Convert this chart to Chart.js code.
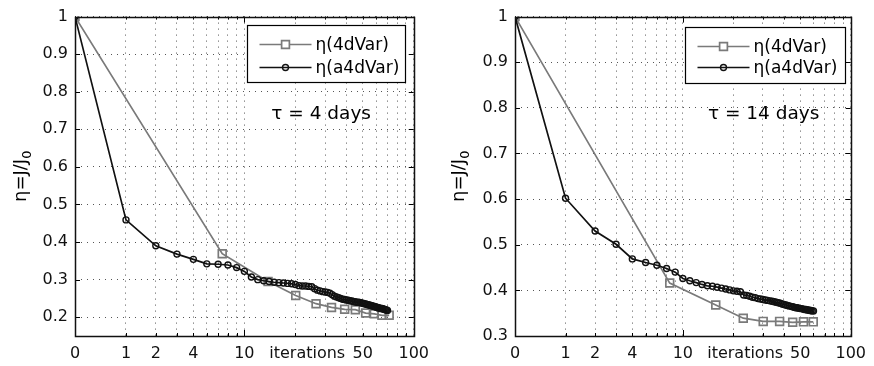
<!DOCTYPE html>
<html>
<head>
<meta charset="utf-8">
<script src="https://cdn.jsdelivr.net/npm/chart.js@4.4.1/dist/chart.umd.min.js"></script>
<style>
  html, body { margin: 0; padding: 0; background: #fff; }
  #wrap { position: relative; width: 874px; height: 366px; }
  .panel { position: absolute; top: 0; width: 437px; height: 366px; }
</style>
</head>
<body>
<div id="wrap">
  <div class="panel" style="left:0"><canvas id="left"></canvas></div>
  <div class="panel" style="left:437px"><canvas id="right"></canvas></div>
</div>
<script>
// x axis is log(iteration + 1): the value 1 is labelled "0", 2 is "1" ...
const xTickValues = [1, 2, 3, 5, 10, 23.5, 50, 100];
const xTickLabels = ['0', '1', '2', '4', '10', 'iterations', '50', '100'];
const xGridValues = [1, 2, 3, 4, 5, 6, 7, 8, 9, 10, 20, 30, 40, 50, 60, 70, 80, 90, 100];

const leftYTicks = [0.2, 0.3, 0.4, 0.5, 0.6, 0.7, 0.8, 0.9, 1];
const rightYTicks = [0.3, 0.4, 0.5, 0.6, 0.7, 0.8, 0.9, 1];

const seriesNames = ['\u03b7(4dVar)', '\u03b7(a4dVar)'];

// tau = 4 days
const left4dX = [1, 7.4, 13.8, 20.1, 26.5, 32.7, 39.1, 45.2, 52, 58.5, 64.9, 71.6];
const left4dY = [1, 0.369, 0.295, 0.258, 0.236, 0.226, 0.221, 0.220, 0.211, 0.209, 0.205, 0.205];
const leftA4dX = [1, 2, 3, 4, 5, 6, 7, 8, 9, 10, 11, 12, 13, 14, 15, 16, 17, 18, 19, 20,
  21, 22, 23, 24, 25, 26, 27, 28, 29, 30, 31, 32, 33, 34, 35, 36, 37, 38, 39, 40,
  41, 42, 43, 44, 45, 46, 47, 48, 49, 50, 51, 52, 53, 54, 55, 56, 57, 58, 59, 60,
  61, 62, 63, 64, 65, 66, 67, 68, 69, 70];
const leftA4dY = [1, 0.459, 0.390, 0.368, 0.354, 0.342, 0.341, 0.339, 0.332, 0.322,
  0.307, 0.300, 0.297, 0.295, 0.293, 0.292, 0.291, 0.290, 0.289, 0.287,
  0.284, 0.283, 0.283, 0.282, 0.281, 0.276, 0.272, 0.270, 0.268, 0.267,
  0.266, 0.264, 0.260, 0.256, 0.254, 0.252, 0.250, 0.248, 0.247, 0.246,
  0.245, 0.244, 0.243, 0.242, 0.241, 0.240, 0.240, 0.239, 0.238, 0.237,
  0.236, 0.235, 0.234, 0.233, 0.232, 0.231, 0.230, 0.229, 0.228, 0.227,
  0.226, 0.225, 0.224, 0.223, 0.223, 0.222, 0.221, 0.220, 0.219, 0.218];

// tau = 14 days
const right4dX = [1, 8.35, 15.7, 22.9, 30.1, 37.7, 45.1, 52.3, 59.8];
const right4dY = [1, 0.416, 0.368, 0.339, 0.332, 0.332, 0.330, 0.331, 0.331];
const rightA4dX = [1, 2, 3, 4, 5, 6, 7, 8, 9, 10, 11, 12, 13, 14, 15, 16, 17, 18, 19, 20,
  21, 22, 23, 24, 25, 26, 27, 28, 29, 30, 31, 32, 33, 34, 35, 36, 37, 38, 39, 40,
  41, 42, 43, 44, 45, 46, 47, 48, 49, 50, 51, 52, 53, 54, 55, 56, 57, 58, 59, 60];
const rightA4dY = [1, 0.602, 0.530, 0.501, 0.469, 0.461, 0.455, 0.448, 0.440, 0.426,
  0.421, 0.417, 0.413, 0.410, 0.409, 0.407, 0.405, 0.403, 0.401, 0.399,
  0.398, 0.397, 0.390, 0.389, 0.387, 0.385, 0.384, 0.382, 0.381, 0.380,
  0.379, 0.378, 0.377, 0.376, 0.375, 0.374, 0.373, 0.372, 0.370, 0.369,
  0.368, 0.367, 0.366, 0.365, 0.364, 0.363, 0.362, 0.362, 0.361, 0.360,
  0.360, 0.359, 0.358, 0.358, 0.357, 0.357, 0.356, 0.356, 0.355, 0.355];

const FONT = "'DejaVu Sans', 'Liberation Sans', Arial, sans-serif";

function toPoints(xs, ys) {
  return xs.map((x, i) => ({ x: x, y: ys[i] }));
}

// frame, inward ticks, legend box, tau note and y title
const decorPlugin = {
  id: 'decor',
  afterDraw(chart) {
    const ctx = chart.ctx;
    const ca = chart.chartArea;
    const xs = chart.scales.x, ys = chart.scales.y;
    const cfg = chart.options.plugins.decor;
    ctx.save();

    // inward tick marks
    ctx.strokeStyle = '#000';
    ctx.lineWidth = 1;
    ctx.beginPath();
    xGridValues.forEach(v => {
      const px = Math.round(xs.getPixelForValue(v)) + 0.5;
      const len = (v === 1 || v === 10 || v === 100) ? 6 : 3;
      ctx.moveTo(px, ca.bottom); ctx.lineTo(px, ca.bottom - len);
      ctx.moveTo(px, ca.top); ctx.lineTo(px, ca.top + len);
    });
    cfg.yTicks.forEach(v => {
      const py = Math.round(ys.getPixelForValue(v)) + 0.5;
      ctx.moveTo(ca.left, py); ctx.lineTo(ca.left + 5, py);
      ctx.moveTo(ca.right, py); ctx.lineTo(ca.right - 5, py);
    });
    ctx.stroke();

    // box
    ctx.lineWidth = 1.5;
    ctx.strokeStyle = '#111';
    ctx.strokeRect(Math.round(ca.left) + 0.5, Math.round(ca.top) + 0.5,
      Math.round(ca.right - ca.left), Math.round(ca.bottom - ca.top));

    // legend
    const lg = cfg.legend;
    const bx = Math.round(ca.right - lg.rightGap - lg.width) + 0.5;
    const by = Math.round(ca.top + lg.topGap) + 0.5;
    ctx.fillStyle = '#fff';
    ctx.fillRect(bx, by, lg.width, lg.height);
    ctx.lineWidth = 1.2;
    ctx.strokeStyle = '#000';
    ctx.strokeRect(bx, by, lg.width, lg.height);
    chart.data.datasets.forEach((ds, i) => {
      const yRow = by + lg.firstRow + i * lg.rowStep;
      ctx.strokeStyle = ds.borderColor;
      ctx.lineWidth = ds.borderWidth;
      ctx.beginPath();
      ctx.moveTo(bx + 12, yRow); ctx.lineTo(bx + 64, yRow);
      ctx.stroke();
      const mx = bx + 38;
      ctx.lineWidth = ds.pointBorderWidth;
      ctx.beginPath();
      if (ds.pointStyle === 'rect') {
        const s = ds.pointRadius * Math.SQRT1_2;
        ctx.fillStyle = '#fff';
        ctx.rect(mx - s, yRow - s, 2 * s, 2 * s);
        ctx.fill();
      } else {
        ctx.arc(mx, yRow, ds.pointRadius, 0, Math.PI * 2);
      }
      ctx.stroke();
      ctx.fillStyle = '#000';
      ctx.font = '17px ' + FONT;
      ctx.textAlign = 'left';
      ctx.textBaseline = 'middle';
      ctx.fillText(ds.label, bx + 68, yRow + 1);
    });

    // tau note
    ctx.fillStyle = '#000';
    ctx.font = '18.5px ' + FONT;
    ctx.textAlign = 'center';
    ctx.textBaseline = 'alphabetic';
    ctx.fillText(cfg.note.text, xs.getPixelForValue(cfg.note.x), ys.getPixelForValue(cfg.note.y));

    // y title  eta = J / J0
    ctx.translate(cfg.titleX, (ca.top + ca.bottom) / 2);
    ctx.rotate(-Math.PI / 2);
    ctx.font = '18px ' + FONT;
    const main = '\u03b7=J/J';
    const wMain = ctx.measureText(main).width;
    ctx.font = '13px ' + FONT;
    const wSub = ctx.measureText('0').width;
    const x0 = -(wMain + wSub) / 2;
    ctx.font = '18px ' + FONT;
    ctx.textAlign = 'left';
    ctx.textBaseline = 'alphabetic';
    ctx.fillText(main, x0, 6);
    ctx.font = '13px ' + FONT;
    ctx.fillText('0', x0 + wMain, 11);
    ctx.restore();
  }
};

function makePanel(id, p) {
  new Chart(document.getElementById(id), {
    type: 'line',
    data: {
      datasets: [
        {
          label: seriesNames[0],
          data: toPoints(p.x4d, p.y4d),
          borderColor: '#7a7a7a',
          borderWidth: 1.7,
          pointStyle: 'rect',
          pointRadius: 5.5,
          pointBorderWidth: 1.7,
          pointBorderColor: '#7a7a7a',
          pointBackgroundColor: 'rgba(255,255,255,0)',
          order: 1
        },
        {
          label: seriesNames[1],
          data: toPoints(p.xa4d, p.ya4d),
          borderColor: '#111',
          borderWidth: 1.7,
          pointStyle: 'circle',
          pointRadius: 3,
          pointBorderWidth: 1.4,
          pointBorderColor: '#111',
          pointBackgroundColor: 'rgba(255,255,255,0)',
          order: 0
        }
      ]
    },
    options: {
      responsive: true,
      maintainAspectRatio: false,
      animation: false,
      events: [],
      layout: { padding: { left: 0, top: 16, right: p.padRight, bottom: 0 } },
      plugins: {
        legend: { display: false },
        tooltip: { enabled: false },
        decor: {
          yTicks: p.yTicks,
          legend: p.legend,
          note: p.note,
          titleX: p.titleX
        }
      },
      scales: {
        x: {
          type: 'logarithmic',
          min: 1,
          max: 100,
          afterBuildTicks: s => {
            const vals = Array.from(new Set(xGridValues.concat(xTickValues))).sort((a, b) => a - b);
            s.ticks = vals.map(v => ({ value: v }));
          },
          afterFit: s => { s.height = 30; },
          ticks: {
            autoSkip: false,
            maxRotation: 0,
            padding: 8,
            color: '#111',
            font: { family: FONT, size: 16 },
            callback: v => {
              const i = xTickValues.indexOf(v);
              return i >= 0 ? xTickLabels[i] : '';
            }
          },
          grid: {
            drawTicks: false,
            lineWidth: 1,
            color: c => (c.tick && xGridValues.includes(c.tick.value)) ? '#555' : 'rgba(0,0,0,0)'
          },
          border: { display: false, dash: [1, 5] }
        },
        y: {
          type: 'linear',
          min: p.yMin,
          max: 1,
          afterBuildTicks: s => { s.ticks = p.yTicks.map(v => ({ value: v })); },
          afterFit: s => { s.width = p.yWidth; },
          ticks: {
            padding: 7,
            color: '#111',
            font: { family: FONT, size: 16 },
            callback: v => String(Math.round(v * 10) / 10)
          },
          grid: { drawTicks: false, lineWidth: 1, color: '#555' },
          border: { display: false, dash: [1, 5] }
        }
      }
    },
    plugins: [decorPlugin]
  });
}

makePanel('left', {
  x4d: left4dX, y4d: left4dY, xa4d: leftA4dX, ya4d: leftA4dY,
  yMin: 0.15, yTicks: leftYTicks, yWidth: 75, padRight: 21, titleX: 20,
  legend: { width: 158, height: 57, rightGap: 9, topGap: 8, firstRow: 19, rowStep: 23 },
  note: { text: '\u03c4 = 4 days', x: 28.4, y: 0.727 }
});

makePanel('right', {
  x4d: right4dX, y4d: right4dY, xa4d: rightA4dX, ya4d: rightA4dY,
  yMin: 0.3, yTicks: rightYTicks, yWidth: 78, padRight: 18, titleX: 21,
  legend: { width: 160, height: 56, rightGap: 6, topGap: 10, firstRow: 19, rowStep: 21 },
  note: { text: '\u03c4 = 14 days', x: 30.3, y: 0.776 }
});
</script>
</body>
</html>
